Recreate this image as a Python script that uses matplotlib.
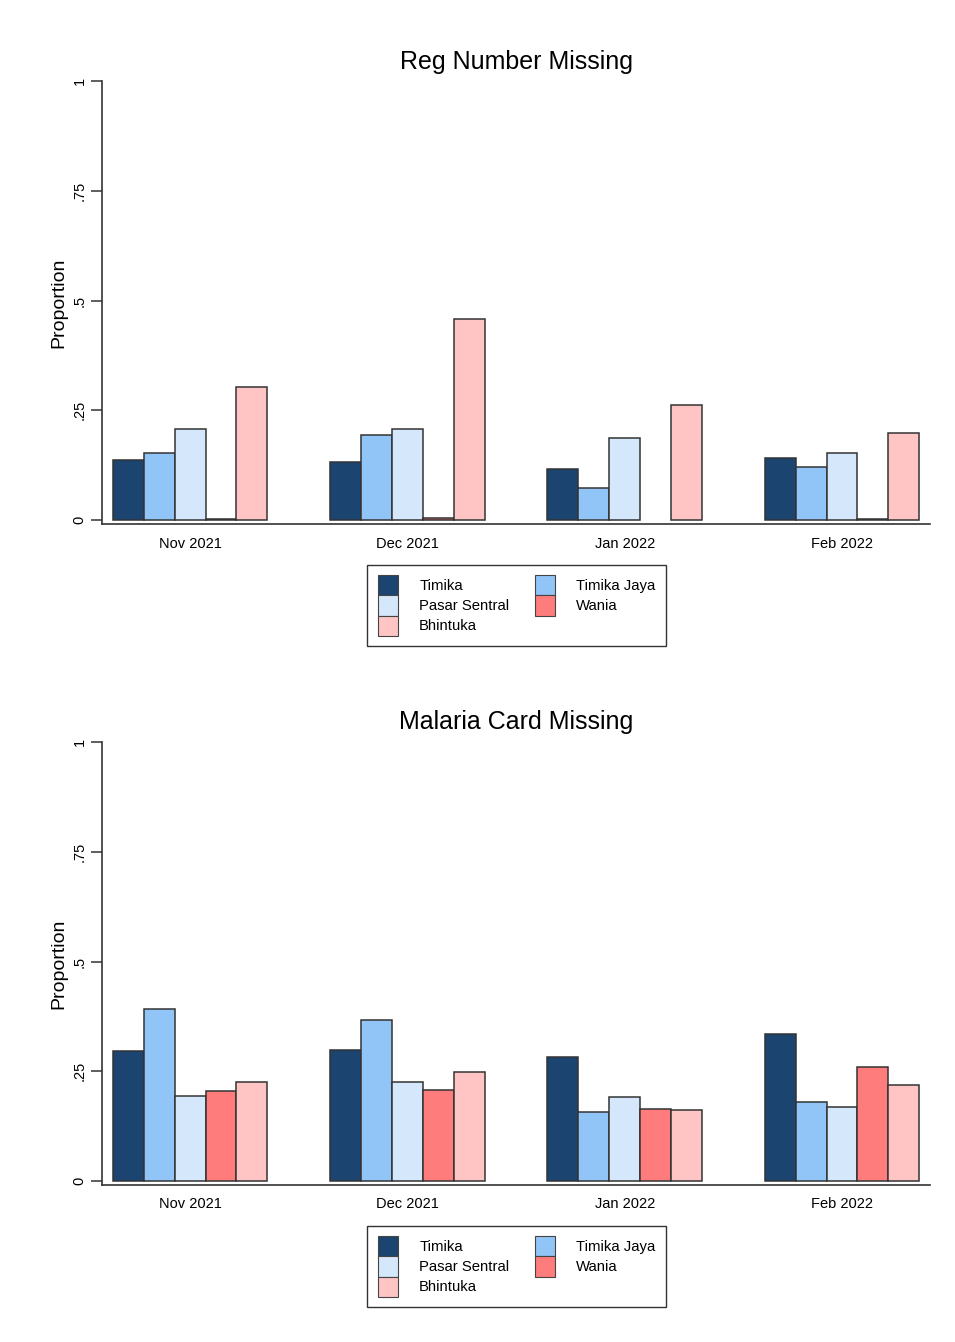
import numpy as np
import matplotlib
matplotlib.use("Agg")
import matplotlib.pyplot as plt
from matplotlib.patches import Patch

plt.rcParams['font.family'] = ['Liberation Sans', 'DejaVu Sans']

months = ['Nov 2021', 'Dec 2021', 'Jan 2022', 'Feb 2022']
sites = ['Timika', 'Timika Jaya', 'Pasar Sentral', 'Wania', 'Bhintuka']
colors = ['#1b4570', '#92c5f7', '#d5e7fa', '#ff7c7c', '#ffc5c5']

# Reg Number Missing
reg_timika = [0.137, 0.132, 0.116, 0.141]
reg_timika_jaya = [0.153, 0.194, 0.073, 0.121]
reg_pasar_sentral = [0.207, 0.207, 0.187, 0.153]
reg_wania = [0.003, 0.004, np.nan, 0.003]
reg_bhintuka = [0.303, 0.458, 0.262, 0.198]

# Malaria Card Missing
card_timika = [0.296, 0.298, 0.282, 0.335]
card_timika_jaya = [0.392, 0.367, 0.157, 0.180]
card_pasar_sentral = [0.194, 0.226, 0.191, 0.169]
card_wania = [0.205, 0.207, 0.164, 0.260]
card_bhintuka = [0.226, 0.248, 0.162, 0.219]

yticks = [0, 0.25, 0.5, 0.75, 1]
yticklabels = ['0', '.25', '.5', '.75', '1']

panels = [
    ('Reg Number Missing', [reg_timika, reg_timika_jaya, reg_pasar_sentral, reg_wania, reg_bhintuka]),
    ('Malaria Card Missing', [card_timika, card_timika_jaya, card_pasar_sentral, card_wania, card_bhintuka]),
]

fig = plt.figure(figsize=(9.55, 13.42), dpi=100)
W, H = 955, 1342
# axes boxes in pixels: left, top, right, bottom
boxes = [(102, 81, 930, 524), (102, 742, 930, 1185)]
legend_tops = [565, 1226]

bw = 0.1425
x = np.arange(len(months))

for (title, series), (l, t, r, b), lt in zip(panels, boxes, legend_tops):
    ax = fig.add_axes([l / W, 1 - b / H, (r - l) / W, (b - t) / H])
    for i, (vals, c) in enumerate(zip(series, colors)):
        ax.bar(x + (i - 2) * bw, vals, width=bw, color=c,
               edgecolor='#333333', linewidth=1.1, label=sites[i])
    ax.set_xlim(-0.405, 3.405)
    ax.set_ylim(-0.009, 1.0)
    ax.set_xticks(x)
    ax.set_xticklabels(months, fontsize=10.5)
    ax.tick_params(axis='x', length=0, pad=9)
    ax.set_yticks(yticks)
    ax.set_yticklabels(yticklabels, fontsize=10.5, rotation=90, va='center')
    ax.tick_params(axis='y', length=8, width=1.1, pad=3, color='#333333')
    for s in ['top', 'right']:
        ax.spines[s].set_visible(False)
    for s in ['left', 'bottom']:
        ax.spines[s].set_color('#333333')
        ax.spines[s].set_linewidth(1.2)
    ax.set_ylabel('Proportion', fontsize=14, labelpad=4)
    ax.set_title(title, fontsize=18, pad=9)

    order = [0, 2, 4, 1, 3]
    handles = [Patch(facecolor=colors[k], edgecolor='#444444', linewidth=0.8) for k in order]
    labels = [sites[k] for k in order]
    leg = fig.legend(handles, labels, loc='upper center',
                     bbox_to_anchor=(516.5 / W, 1 - lt / H), ncol=2,
                     fontsize=10.7, frameon=True, fancybox=False,
                     edgecolor='black', handlelength=1.35, handleheight=1.7,
                     labelspacing=0.0, handletextpad=1.45, columnspacing=1.7,
                     borderpad=0.7, borderaxespad=0)
    leg.get_frame().set_linewidth(1.0)

fig.savefig('out.png', dpi=100, facecolor='white')
